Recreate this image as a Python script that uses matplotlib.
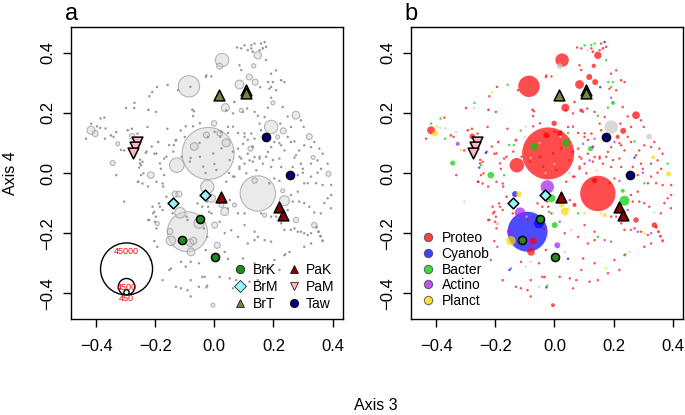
import numpy as np
import matplotlib.pyplot as plt
from matplotlib.lines import Line2D

plt.rcParams['font.family'] = ['Liberation Sans', 'DejaVu Sans']

# OTUs: (Axis 3, Axis 4, reads), one list per phylum
proteo = [
    (-0.021, 0.065, 45000), (0.147, -0.068, 20850), (-0.086, 0.288, 7600), (0.026, 0.375, 3000),
    (-0.127, 0.026, 3500), (0.085, 0.294, 1300), (0.037, 0.217, 1065), (0.276, 0.192, 1000),
    (-0.417, 0.142, 1065), (-0.079, -0.262, 1000), (-0.071, -0.225, 800), (0.147, 0.391, 900),
    (0.133, 0.356, 300), (0.118, 0.319, 600), (0.138, 0.302, 600), (0.233, 0.140, 600),
    (0.276, -0.156, 480), (0.338, -0.173, 500), (-0.278, 0.122, 500), (0.136, -0.025, 500),
    (0.091, 0.208, 270), (-0.005, -0.439, 250), (-0.001, 0.165, 480), (-0.027, 0.126, 600),
    (0.018, 0.132, 500),
    # rare OTUs
    (-0.434, 0.114, 100), (-0.372, 0.184, 100), (-0.350, 0.125, 120), (-0.341, 0.120, 100),
    (-0.305, 0.075, 100), (-0.293, 0.142, 120), (-0.279, 0.147, 100), (-0.243, 0.037, 100),
    (-0.190, 0.103, 120), (-0.203, 0.064, 100), (-0.170, 0.048, 100), (-0.181, 0.014, 100),
    (-0.130, 0.109, 150), (-0.074, 0.210, 120), (-0.069, 0.205, 100), (-0.072, 0.155, 100),
    (-0.198, 0.203, 100), (-0.223, 0.210, 120), (-0.299, 0.216, 100), (-0.194, 0.286, 100),
    (-0.220, 0.255, 100), (-0.123, 0.275, 100), (-0.251, 0.044, 100), (-0.159, 0.147, 100),
    (-0.226, 0.153, 100), (-0.260, 0.131, 100), (-0.029, 0.319, 100),
    (0.158, 0.430, 100), (0.164, 0.414, 120), (0.153, 0.408, 100), (0.175, 0.419, 100),
    (0.125, 0.414, 100), (0.130, 0.403, 120), (0.091, 0.414, 100), (0.077, 0.417, 100),
    (0.085, 0.358, 100), (0.091, 0.342, 100), (-0.010, 0.321, 100), (-0.027, 0.324, 100),
    (0.186, 0.280, 100), (0.209, 0.275, 100), (0.226, 0.308, 120), (0.237, 0.302, 100),
    (0.192, 0.330, 100), (0.209, 0.341, 100), (0.068, 0.236, 120), (0.111, 0.214, 100),
    (0.136, 0.203, 100), (0.231, 0.219, 100), (0.248, 0.188, 100), (0.293, 0.175, 100),
    (0.302, 0.153, 100), (0.259, 0.153, 100), (0.223, 0.164, 100), (0.170, 0.186, 100),
    (0.153, 0.164, 100), (0.158, 0.142, 100), (0.125, 0.131, 100), (0.102, 0.120, 100),
    (0.080, 0.133, 100), (0.046, 0.153, 100), (0.023, 0.137, 100), (0.001, 0.137, 100),
    (-0.022, 0.120, 100),
    (0.080, 0.081, 100), (0.113, 0.064, 100), (0.136, 0.053, 100), (0.091, 0.048, 100),
    (0.102, 0.031, 100), (0.153, 0.048, 100), (0.181, 0.070, 100), (0.192, 0.086, 100),
    (0.214, 0.120, 270), (0.226, 0.092, 100), (0.237, 0.075, 100), (0.259, 0.103, 100),
    (0.248, 0.120, 100), (0.276, 0.059, 100), (0.287, 0.075, 100), (0.304, 0.092, 100),
    (0.327, 0.086, 100), (0.338, 0.103, 100), (0.355, 0.081, 100), (0.366, 0.064, 100),
    (0.349, 0.042, 100), (0.327, 0.031, 100), (0.293, 0.031, 100), (0.265, 0.020, 100),
    (0.299, 0.014, 100), (0.361, 0.014, 100), (0.164, 0.031, 100), (0.192, 0.020, 100),
    (0.226, 0.020, 100), (0.220, 0.048, 100), (0.085, 0.014, 100),
    (0.068, -0.012, 100), (0.203, -0.018, 100), (0.186, -0.034, 100), (0.316, -0.034, 100),
    (0.327, -0.012, 100), (0.344, -0.034, 100), (0.366, -0.040, 100), (0.282, -0.007, 100),
    (0.349, 0.001, 100), (0.395, -0.040, 100), (0.395, -0.073, 100), (0.383, -0.084, 100),
    (0.394, -0.117, 100), (0.372, -0.100, 100), (0.360, -0.134, 100), (0.321, -0.112, 100),
    (0.304, -0.100, 100), (0.287, -0.095, 100), (0.265, -0.095, 100), (0.259, -0.073, 100),
    (0.282, -0.062, 100), (0.271, -0.184, 100), (0.293, -0.195, 100), (0.316, -0.206, 100),
    (0.237, -0.189, 100), (0.226, -0.167, 100), (0.192, -0.145, 100), (0.068, -0.106, 270),
    (0.052, -0.090, 100), (-0.010, -0.134, 100), (-0.021, -0.112, 100), (0.102, -0.173, 100),
    (0.136, -0.195, 100), (0.136, -0.223, 100), (0.113, -0.234, 100), (0.080, -0.212, 100),
    (0.035, -0.200, 100), (0.097, -0.284, 100), (0.136, -0.300, 100), (0.203, -0.289, 100),
    (0.237, -0.273, 100), (0.304, -0.245, 100), (0.327, -0.234, 100), (0.220, -0.322, 100),
    (0.181, -0.333, 100), (0.091, -0.322, 100), (0.074, -0.356, 100), (0.052, -0.350, 100),
    (0.018, -0.345, 100), (0.119, -0.361, 100), (0.147, -0.356, 100), (0.063, -0.383, 100),
    (0.345, -0.180, 150), (0.352, -0.195, 150), (0.359, -0.210, 150), (0.366, -0.225, 150),
    (-0.209, -0.112, 100), (-0.203, -0.129, 100), (-0.187, -0.101, 100), (-0.220, -0.156, 100),
    (-0.198, -0.145, 100), (-0.175, -0.123, 100), (-0.141, -0.134, 100), (-0.091, -0.156, 100),
    (-0.057, -0.101, 100), (-0.041, -0.112, 100), (-0.024, -0.095, 100), (-0.035, -0.184, 100),
    (-0.029, -0.256, 100), (-0.130, -0.378, 100), (-0.113, -0.383, 100), (-0.091, -0.389, 100),
    (-0.080, -0.356, 100), (-0.052, -0.300, 100), (-0.041, -0.345, 100), (-0.113, -0.295, 100),
    (-0.175, -0.356, 100), (-0.203, -0.226, 100), (-0.259, -0.029, 100), (-0.243, -0.035, 100),
    (-0.175, -0.035, 100), (-0.332, -0.007, 100), (-0.248, -0.007, 100), (-0.033, -0.345, 100),
    (-0.080, -0.410, 100),
    (-0.049, 0.165, 100), (-0.072, 0.189, 100), (0.024, 0.082, 100), (-0.004, 0.065, 100),
    (-0.049, 0.054, 100), (-0.083, 0.038, 100), (-0.038, 0.021, 100), (0.007, 0.010, 100),
    (0.052, 0.043, 100), (0.063, 0.071, 100), (0.085, 0.054, 100), (0.085, 0.021, 100),
    (0.108, -0.001, 100), (0.063, -0.012, 100), (0.040, -0.029, 100), (-0.111, 0.054, 100),
    (-0.139, 0.071, 100), (-0.162, 0.054, 100), (-0.184, 0.032, 100), (-0.196, 0.065, 100),
    (-0.212, 0.088, 100), (-0.229, 0.071, 100), (-0.252, 0.032, 100), (-0.240, -0.001, 100),
    (-0.257, -0.029, 100), (-0.224, -0.045, 100), (-0.196, -0.029, 100), (-0.173, -0.045, 100),
    (-0.162, -0.079, 100), (-0.184, -0.112, 100), (-0.207, -0.134, 100), (-0.224, -0.156, 100),
    (-0.201, -0.162, 100), (-0.196, -0.184, 100), (0.063, 0.154, 100), (0.040, 0.209, 100),
    (0.063, 0.198, 100), (0.102, 0.132, 100), (0.113, 0.110, 100), (0.130, 0.088, 100),
    (0.153, 0.054, 100), (0.175, 0.054, 100), (0.198, 0.043, 100), (0.220, 0.099, 100),
    (0.130, 0.038, 100),
]
cyanob = [
    (-0.091, -0.195, 26600), (-0.052, -0.167, 1700), (-0.133, -0.070, 600),
    (0.170, 0.435, 100), (-0.232, 0.067, 100), (-0.254, 0.018, 100), (0.271, 0.051, 100),
    (0.046, -0.285, 100), (-0.027, -0.380, 100), (-0.152, -0.322, 100), (0.155, 0.285, 100),
]
bacter = [
    (0.237, -0.092, 1665), (-0.010, -0.084, 1065), (0.040, 0.100, 1065), (-0.068, 0.088, 1000),
    (-0.215, -0.007, 725), (-0.344, 0.033, 416), (0.001, -0.173, 600), (0.122, 0.081, 416),
    (0.198, 0.233, 270), (0.231, -0.059, 270),
    (-0.417, 0.164, 100), (-0.385, 0.181, 100), (-0.370, 0.114, 100), (-0.248, 0.026, 100),
    (-0.153, 0.093, 100), (-0.137, 0.093, 100), (-0.114, 0.141, 100), (-0.270, 0.233, 100),
    (-0.158, 0.293, 100), (-0.081, 0.286, 100), (0.136, 0.430, 100), (0.125, 0.425, 100),
    (0.102, 0.424, 100), (0.175, 0.375, 100), (0.182, 0.302, 100), (0.198, 0.302, 100),
    (0.192, 0.286, 100), (0.046, 0.133, 100), (0.271, 0.105, 100), (0.383, 0.031, 100),
    (0.304, -0.034, 100), (0.080, -0.134, 100), (0.147, -0.212, 100), (-0.018, -0.129, 100),
    (-0.024, -0.374, 100), (-0.170, -0.007, 100), (0.147, 0.190, 100), (0.181, 0.217, 100),
    (0.240, -0.270, 100),
]
actino = [
    (-0.024, -0.046, 2990), (-0.116, -0.132, 1900), (-0.150, -0.194, 600), (-0.082, -0.232, 900),
    (-0.327, 0.097, 266), (0.010, -0.240, 600),
    (0.097, 0.203, 100), (0.192, 0.250, 100), (0.136, 0.114, 100), (0.097, 0.097, 100),
    (0.130, 0.086, 100), (0.119, 0.042, 100), (0.203, 0.103, 100), (0.220, -0.026, 100),
    (0.299, 0.001, 100), (0.248, -0.123, 100), (0.259, -0.189, 100), (0.282, -0.195, 100),
    (0.327, -0.200, 100), (0.209, -0.145, 100), (0.170, -0.223, 100), (0.192, -0.228, 100),
    (0.018, -0.162, 100), (-0.147, -0.317, 100), (-0.215, -0.289, 100), (-0.193, -0.245, 100),
]
planct = [
    (-0.147, -0.225, 1470), (0.035, -0.128, 1065), (-0.120, -0.070, 600), (0.386, -0.003, 416),
    (-0.403, 0.131, 600), (0.024, -0.106, 416),
    (-0.397, 0.155, 100), (-0.316, 0.077, 100), (-0.210, 0.269, 100), (-0.265, 0.100, 100),
    (0.334, 0.052, 266), (0.142, 0.009, 100), (0.046, -0.118, 100), (0.170, -0.140, 266),
    (0.158, -0.134, 100), (0.102, -0.134, 100), (0.304, -0.200, 100), (0.175, -0.317, 100),
]
other = [
    (0.192, 0.153, 2990), (0.321, 0.121, 600), (0.018, 0.355, 600), (-0.193, -0.168, 266),
    (-0.386, 0.150, 100), (-0.368, 0.148, 100), (-0.332, 0.136, 100), (-0.271, 0.216, 100),
    (-0.097, 0.155, 100), (0.113, 0.408, 100), (0.338, -0.131, 100), (0.057, -0.190, 100),
    (0.035, -0.262, 100), (0.254, -0.262, 100), (-0.140, -0.100, 100), (-0.094, -0.145, 100),
    (-0.024, -0.212, 100), (-0.052, -0.378, 100), (-0.097, -0.311, 100), (-0.080, -0.295, 100),
    (-0.305, -0.095, 100), (-0.050, 0.100, 100), (0.000, 0.030, 100), (-0.030, 0.000, 100),
    (0.050, 0.000, 100), (-0.100, 0.120, 100), (-0.080, 0.050, 100), (0.020, 0.120, 100),
]

phylum_names = ['Proteo', 'Cyanob', 'Bacter', 'Actino', 'Planct']
phylum_colors = ['#FF0000', '#0000FF', '#00CD00', '#A020F0', '#FFD700']
other_color = '#C8C8C8'

# samples
sample_names = ['BrK', 'BrM', 'BrT', 'PaK', 'PaM', 'Taw']
sample_x = [[-0.049, -0.110, 0.001], [-0.140, -0.033], [0.015, 0.106, 0.108],
            [0.024, 0.218, 0.231], [-0.261, -0.268, -0.274], [0.173, 0.255]]
sample_y = [[-0.152, -0.223, -0.278], [-0.098, -0.073], [0.259, 0.276, 0.265],
            [-0.079, -0.114, -0.140], [0.104, 0.088, 0.068], [0.121, -0.006]]
sample_markers = ['o', 'D', '^', '^', 'v', 'o']
sample_colors = ['#228B22', '#98F5FF', '#6E8B3D', '#8B0000', '#FFB6C1', '#000080']
sample_sizes = [34, 30, 60, 60, 60, 34]

size_key = [45000, 4500, 450]

# bubble area proportional to reads: 45000 reads -> 26 px radius
bubble_scale = (2 * 26 * 0.72) ** 2 / 45000

groups = [proteo, cyanob, bacter, actino, planct, other]
group_colors = phylum_colors + [other_color]
otu = []
for g, col in zip(groups, group_colors):
    for x, y, r in g:
        otu.append((x, y, r, col))
otu.sort(key=lambda t: -t[2])
ox = np.array([t[0] for t in otu])
oy = np.array([t[1] for t in otu])
oreads = np.array([t[2] for t in otu])
osz = oreads * bubble_scale
ocol = [t[3] for t in otu]

fig = plt.figure(figsize=(6.85, 4.15), dpi=100)
ax_a = fig.add_axes([0.1036, 0.2313, 0.3971, 0.7036])
ax_b = fig.add_axes([0.6000, 0.2313, 0.3971, 0.7036])

for ax in (ax_a, ax_b):
    ax.set_xlim(-0.485, 0.435)
    ax.set_ylim(-0.485, 0.485)
    ticks = [-0.4, -0.2, 0.0, 0.2, 0.4]
    ax.set_xticks(ticks)
    ax.set_yticks(ticks)
    ax.set_xticklabels([f'{t:.1f}'.replace('-', '\u2212') for t in ticks])
    ax.set_yticklabels([f'{t:.1f}'.replace('-', '\u2212') for t in ticks],
                       rotation=90, va='center')
    ax.tick_params(direction='out', length=5.5, width=1, labelsize=12, pad=6)
    ax.tick_params(axis='x', pad=9)
    for sp in ax.spines.values():
        sp.set_linewidth(1)

# panel a: all OTUs in grey (rare ones as small solid dots)
rare = oreads < 200
ax_a.scatter(ox[~rare], oy[~rare], s=osz[~rare], facecolor=(0.82, 0.82, 0.82, 0.45),
             edgecolor=(0.6, 0.6, 0.6, 0.7), linewidth=0.8, zorder=2)
ax_a.scatter(ox[rare], oy[rare], s=osz[rare], facecolor=(0.6, 0.6, 0.6),
             edgecolor='none', zorder=2)
# panel b: coloured by phylum
ax_b.scatter(ox, oy, s=osz, c=ocol, alpha=0.7, linewidth=0, zorder=2)

for ax in (ax_a, ax_b):
    for xs, ys, m, c, s in zip(sample_x, sample_y, sample_markers, sample_colors, sample_sizes):
        ax.scatter(xs, ys, s=s, marker=m, facecolor=c, edgecolor='black',
                   linewidth=1.1, zorder=5)

# size key in panel a
fig.canvas.draw()
ppu = ax_a.get_window_extent().height / (0.485 * 2)
base_y, key_x = -0.405, -0.297
for v in size_key:
    r_px = 26 * np.sqrt(v / 45000)
    cy = base_y + r_px / ppu
    ax_a.scatter([key_x], [cy], s=v * bubble_scale, facecolor='none',
                 edgecolor='black', linewidth=1, zorder=3)
    ax_a.text(key_x, cy + r_px / ppu - 0.03, str(v), color='red', fontsize=6.5,
              ha='center', va='center', zorder=4)

handles_a = [Line2D([], [], linestyle='none', marker=m, markersize=6,
                    markerfacecolor=c, markeredgecolor='black', markeredgewidth=0.5, label=n)
             for n, m, c in zip(sample_names, sample_markers, sample_colors)]
ax_a.legend(handles=handles_a, ncol=2, loc='lower right', frameon=False, fontsize=10,
            handlelength=0.8, handletextpad=0.5, columnspacing=0.7, labelspacing=0.2,
            borderaxespad=0.2)

handles_b = [Line2D([], [], linestyle='none', marker='o', markersize=6,
                    markerfacecolor=c, alpha=0.75, markeredgecolor='#444444',
                    markeredgewidth=0.8, label=n)
             for n, c in zip(phylum_names, phylum_colors)]
ax_b.legend(handles=handles_b, loc='lower left', frameon=False, fontsize=10,
            handlelength=0.8, handletextpad=0.6, labelspacing=0.12, borderaxespad=0.4)

fig.text(0.095, 0.966, 'a', fontsize=17, ha='left', va='center')
fig.text(0.591, 0.966, 'b', fontsize=17, ha='left', va='center')
fig.text(0.015, 0.583, 'Axis 4', fontsize=11.5, rotation=90, ha='center', va='center')
fig.text(0.548, 0.024, 'Axis 3', fontsize=11.5, ha='center', va='center')

fig.savefig('out.png', dpi=100)
